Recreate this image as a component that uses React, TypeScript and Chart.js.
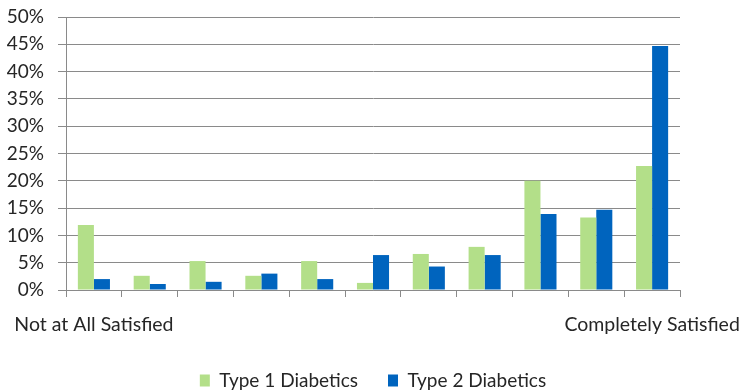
import React, { useEffect, useRef } from "react";
import { Chart, registerables } from "chart.js";

Chart.register(...registerables);

const categories = [
  "Not at All Satisfied", "", "", "", "", "", "", "", "", "", "Completely Satisfied",
];
const type1Values = [11.9, 2.6, 5.3, 2.6, 5.3, 1.3, 6.6, 7.9, 20.0, 13.3, 22.7];
const type2Values = [2.0, 1.1, 1.5, 3.0, 2.0, 6.4, 4.3, 6.4, 13.9, 14.7, 44.7];
const seriesNames = ["Type 1 Diabetics", "Type 2 Diabetics"];
const yTicks = [0, 5, 10, 15, 20, 25, 30, 35, 40, 45, 50];

const GREEN = "#B3DF89";
const BLUE = "#0064BE";
const GRID = "#8A8A8A";
const TEXT = "#262626";
const FONT = "Lato";

export default function App() {
  const ref = useRef<HTMLCanvasElement | null>(null);

  useEffect(() => {
    if (!ref.current) return;
    const chart = new Chart(ref.current, {
      type: "bar",
      data: {
        labels: categories,
        datasets: [
          { label: seriesNames[0], data: type1Values, backgroundColor: GREEN, categoryPercentage: 0.575, barPercentage: 1 },
          { label: seriesNames[1], data: type2Values, backgroundColor: BLUE, categoryPercentage: 0.575, barPercentage: 1 },
        ],
      },
      options: {
        animation: false,
        responsive: false,
        layout: { padding: { top: 17, right: 59, left: 0, bottom: -10 } },
        plugins: {
          tooltip: { enabled: false },
          legend: {
            position: "bottom",
            fullSize: false,
            labels: {
              boxWidth: 10,
              boxHeight: 12,
              padding: 30,
              color: TEXT,
              font: { family: FONT, size: 19 },
            },
          },
        },
        scales: {
          x: {
            afterFit: (s: any) => { s.height = 51; s.paddingLeft = 0; s.paddingRight = 0; },
            grid: { display: true, drawOnChartArea: false, drawTicks: true, tickLength: 7, color: GRID, offset: true },
            border: { display: true, color: GRID },
            ticks: {
              autoSkip: false,
              maxRotation: 0,
              minRotation: 0,
              padding: 16,
              color: TEXT,
              font: { family: FONT, size: 19.5 },
            },
          },
          y: {
            min: 0,
            max: 50,
            afterFit: (s: any) => { s.width = 66; s.paddingTop = 0; s.paddingBottom = 0; },
            afterBuildTicks: (s: any) => { s.ticks = yTicks.map((v) => ({ value: v })); },
            grid: { color: GRID, tickLength: 8, drawTicks: true },
            border: { display: true, color: GRID },
            ticks: {
              autoSkip: false,
              padding: 14,
              color: TEXT,
              font: { family: FONT, size: 19 },
              callback: (v: any) => v + "%",
            },
          },
        },
      },
    });
    return () => chart.destroy();
  }, []);

  return (
    <div style={{ position: "fixed", left: 0, top: 0, width: 739, height: 390, background: "#fff" }}>
      <canvas ref={ref} width={739} height={390} style={{ display: "block" }} />
    </div>
  );
}
